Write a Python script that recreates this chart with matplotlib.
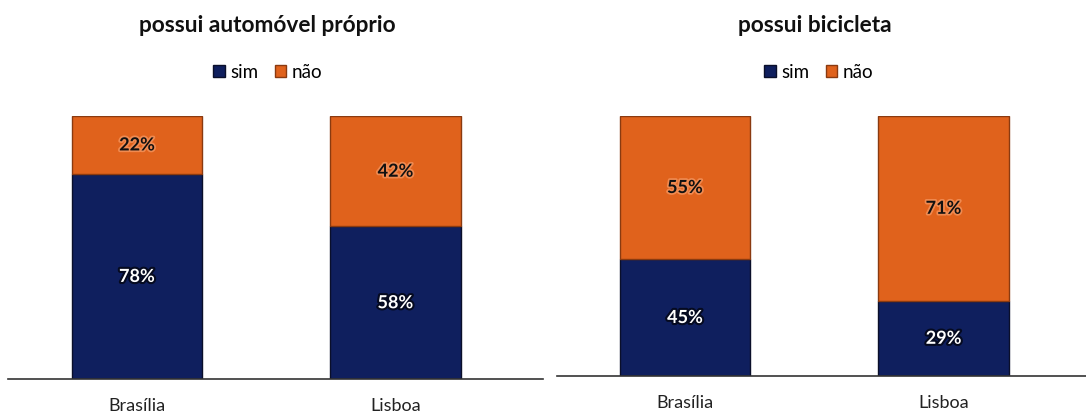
import matplotlib
matplotlib.use("Agg")
import matplotlib.pyplot as plt
import matplotlib.patheffects as pe
from matplotlib.patches import Patch

plt.rcParams['font.family'] = ['Lato', 'DejaVu Sans']

cities = ["Brasília", "Lisboa"]
series_names = ["sim", "não"]
car_sim = [78, 58]
car_nao = [22, 42]
bike_sim = [45, 29]
bike_nao = [55, 71]
titles = ["possui automóvel próprio", "possui bicicleta"]

NAVY = "#0f1f5e"
ORANGE = "#e0621c"

W, H = 1086, 414
fig = plt.figure(figsize=(W / 100, H / 100), dpi=100)


def panel(left_px, right_px, bottom_px, top_px, xlim, sim, nao, title, title_x, legend_x):
    ax = fig.add_axes([left_px / W, (H - bottom_px) / H,
                       (right_px - left_px) / W, (bottom_px - top_px) / H])
    x = range(len(cities))
    width = 0.505
    ax.bar(x, sim, width=width, color=NAVY, edgecolor="#0a0f2a", linewidth=1.0)
    ax.bar(x, nao, width=width, bottom=sim, color=ORANGE, edgecolor="#8a3a10", linewidth=1.0)
    for i in x:
        ax.text(i, sim[i] / 2, f"{sim[i]}%", ha="center", va="center", color="white",
                fontsize=13, fontweight="bold",
                path_effects=[pe.withStroke(linewidth=3, foreground="#050a20")])
        ax.text(i, sim[i] + nao[i] / 2, f"{nao[i]}%", ha="center", va="center", color="#111111",
                fontsize=13, fontweight="bold",
                path_effects=[pe.withStroke(linewidth=2.5, foreground="#f08a50")])
    ax.set_xlim(*xlim)
    ax.set_ylim(0, 100)
    for s in ["top", "right", "left"]:
        ax.spines[s].set_visible(False)
    ax.spines["bottom"].set_color("#333333")
    ax.spines["bottom"].set_linewidth(1.2)
    ax.set_yticks([])
    ax.set_xticks(list(x))
    ax.set_xticklabels(cities, fontsize=13, color="#222222")
    ax.tick_params(axis="x", length=0, pad=13)

    fig.text(title_x / W, 1 - 26 / H, title, ha="center", va="center",
             fontsize=16.3, fontweight="bold", color="#111111")
    handles = [Patch(facecolor=NAVY, edgecolor="#0a0f2a"),
               Patch(facecolor=ORANGE, edgecolor="#8a3a10")]
    fig.legend(handles, series_names, loc="center", bbox_to_anchor=(legend_x / W, 1 - 73 / H),
               ncol=2, frameon=False, fontsize=13.5, handlelength=0.6, handleheight=0.6,
               handletextpad=0.3, columnspacing=0.9)
    return ax


panel(8, 543, 380, 117, (-0.499, 1.571), car_sim, car_nao, titles[0], 267, 268)
panel(557, 1086, 377, 117, (-0.495, 1.551), bike_sim, bike_nao, titles[1], 815, 819)

fig.savefig("out.png", dpi=100, facecolor="white")
